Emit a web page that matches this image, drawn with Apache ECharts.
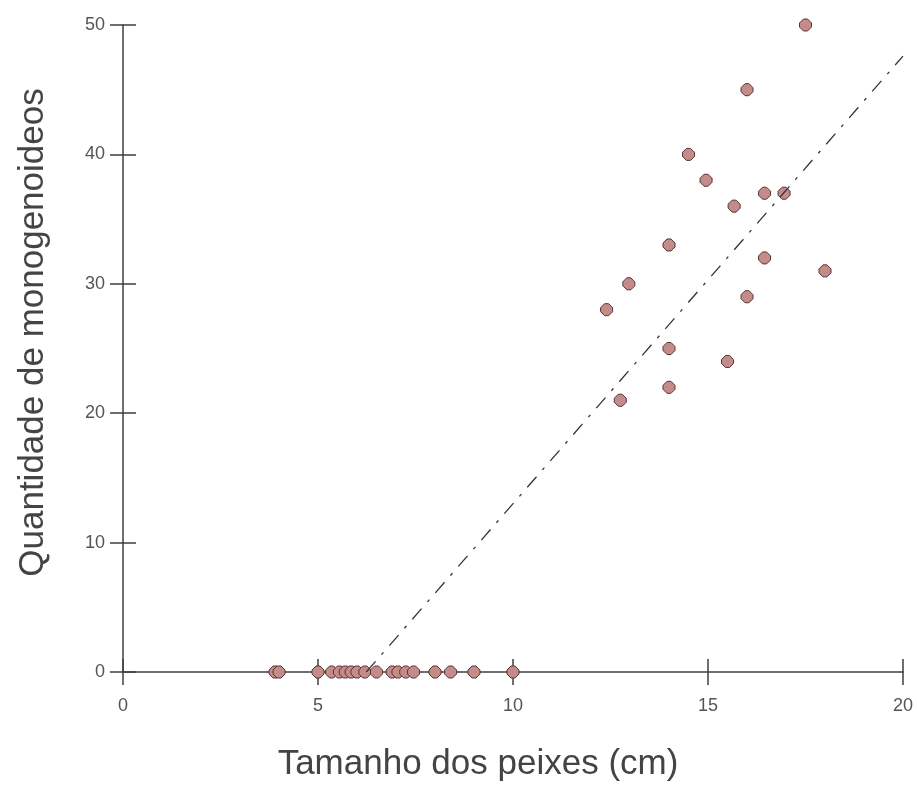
<!DOCTYPE html>
<html>
<head>
<meta charset="utf-8">
<script src="https://cdn.jsdelivr.net/npm/echarts@6/dist/echarts.min.js"></script>
<style>html,body{margin:0;padding:0;background:#fff}#c{width:917px;height:787px}</style>
</head>
<body>
<div id="c"></div>
<script>
// Fish length (cm) and monogenean count
var zeroX = [3.9, 4.0, 5.0, 5.35, 5.55, 5.7, 5.85, 6.0, 6.2, 6.5, 6.9, 7.05, 7.25, 7.45, 8.0, 8.4, 9.0, 10.0];
var upperX = [17.5, 16.0, 14.5, 14.95, 16.45, 16.95, 15.67, 14.0, 12.97, 12.4, 16.45, 18.0, 16.0, 14.0, 15.5, 14.0, 12.75];
var upperY = [50, 45, 40, 38, 37, 37, 36, 33, 30, 28, 32, 31, 29, 25, 24, 22, 21];
var trendX = [6.24, 20];
var trendY = [0, 47.6];
var xTicks = [0, 5, 10, 15, 20];
var yTicks = [0, 10, 20, 30, 40, 50];

var points = zeroX.map(function (x) { return [x, 0]; })
  .concat(upperX.map(function (x, i) { return [x, upperY[i]]; }));
var trend = trendX.map(function (x, i) { return [x, trendY[i]]; });

var font = 'Liberation Sans, Arial, sans-serif';
var axisColor = '#3f3f3f';
var marker = 'path://M4,0 L8,0 L12,4 L12,8 L8,12 L4,12 L0,8 L0,4 Z';

var chart = echarts.init(document.getElementById('c'), null, {renderer: 'canvas'});
chart.setOption({
  backgroundColor: '#ffffff',
  animation: false,
  grid: {left: 123, right: 14, top: 25, bottom: 110, containLabel: false},
  xAxis: [{
    type: 'value', min: xTicks[0], max: xTicks[xTicks.length - 1], interval: 5,
    position: 'bottom',
    name: 'Tamanho dos peixes (cm)', nameLocation: 'middle', nameGap: 75,
    nameTextStyle: {fontFamily: font, fontSize: 35, color: '#444', padding: [0, 70, 0, 0]},
    axisLine: {show: true, lineStyle: {color: axisColor, width: 1.5}},
    axisTick: {show: true, length: 13, lineStyle: {color: axisColor, width: 1.5}},
    axisLabel: {fontFamily: font, fontSize: 18, color: '#555', margin: 25},
    splitLine: {show: false}
  }, {
    type: 'value', min: xTicks[0], max: xTicks[xTicks.length - 1], interval: 5,
    position: 'bottom',
    axisLine: {show: false},
    axisTick: {show: true, inside: true, length: 13, lineStyle: {color: axisColor, width: 1.5}},
    axisLabel: {show: false},
    splitLine: {show: false}
  }],
  yAxis: [{
    type: 'value', min: yTicks[0], max: yTicks[yTicks.length - 1], interval: 10,
    position: 'left',
    name: 'Quantidade de monogenoideos', nameLocation: 'middle', nameGap: 72,
    nameTextStyle: {fontFamily: font, fontSize: 35, color: '#444', padding: [0, 0, 0, 32]},
    axisLine: {show: true, lineStyle: {color: axisColor, width: 1.5}},
    axisTick: {show: true, length: 13, lineStyle: {color: axisColor, width: 1.5}},
    axisLabel: {fontFamily: font, fontSize: 18, color: '#555', margin: 18},
    splitLine: {show: false}
  }, {
    type: 'value', min: yTicks[0], max: yTicks[yTicks.length - 1], interval: 10,
    position: 'left',
    axisLine: {show: false},
    axisTick: {show: true, inside: true, length: 13, lineStyle: {color: axisColor, width: 1.5}},
    axisLabel: {show: false},
    splitLine: {show: false}
  }],
  series: [{
    type: 'line', data: trend, xAxisIndex: 0, yAxisIndex: 0,
    symbol: 'none', silent: true,
    lineStyle: {color: '#333', width: 1.3, type: [14, 9, 3, 9]}
  }, {
    type: 'scatter', data: points, xAxisIndex: 0, yAxisIndex: 0,
    symbol: marker, symbolSize: 12,
    itemStyle: {color: '#c48b8b', borderColor: '#5a3434', borderWidth: 1, opacity: 1}
  }]
});
</script>
</body>
</html>
